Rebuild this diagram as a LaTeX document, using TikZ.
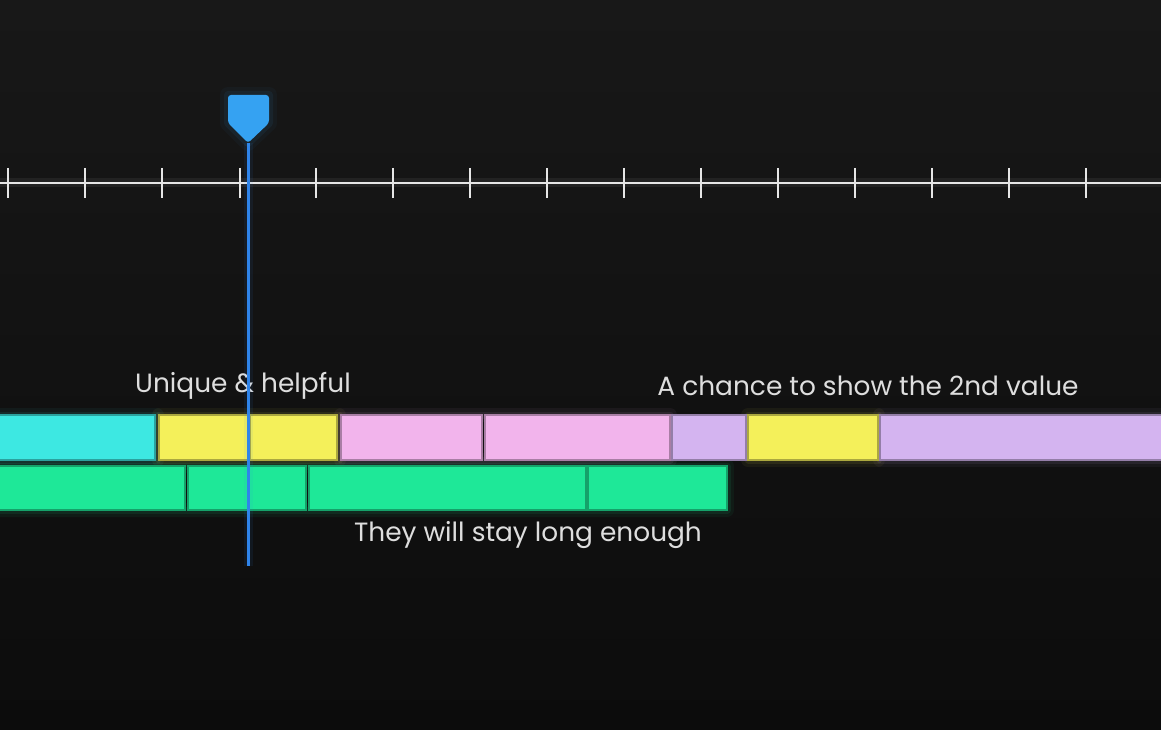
\documentclass[tikz,border=0pt]{standalone}
\usepackage{fontspec}
\setmainfont{Poppins}
\definecolor{bgtop}{HTML}{181818}
\definecolor{bgbot}{HTML}{0C0C0C}
\definecolor{tickc}{HTML}{E6E6E6}
\definecolor{phblue}{HTML}{35A2F2}
\definecolor{lineblue}{HTML}{2F84EA}
\definecolor{cyanc}{HTML}{3DE8E2}
\definecolor{yelc}{HTML}{F4F05A}
\definecolor{pinkc}{HTML}{F2B4EC}
\definecolor{lavc}{HTML}{D4B4F0}
\definecolor{greenc}{HTML}{1EE898}
\definecolor{txtc}{HTML}{DEDEDE}
\tikzset{
  seg/.style={anchor=north west, inner sep=0pt, outer sep=0pt, fill=#1, draw=#1!70!black, line width=1.2pt},
  glow/.style={draw=#1, line width=14pt, opacity=0.05, line join=round},
  glowb/.style={draw=#1, line width=7pt, opacity=0.08, line join=round},
  tickline/.style={draw=tickc, line width=2pt},
  tickglow/.style={draw=white, line width=9pt, opacity=0.06},
  label/.style={text=txtc, font=\fontsize{26.4}{30}\selectfont, inner sep=0pt},
}
\begin{document}
\begin{tikzpicture}[x=1pt,y=-1pt]
\useasboundingbox (0,0) rectangle (1161,730);
\shade[top color=bgtop, bottom color=bgbot] (0,0) rectangle (1161,730);
% timeline
\coordinate (tlA) at (0,183);
\coordinate (tlB) at (1161,183);
\draw[tickglow] (tlA) -- (tlB);
\draw[tickline] (tlA) -- (tlB);
\foreach \x in {8,85,162,240,316,393,470,547,624,701,778,855,932,1009,1086} {
  \coordinate (tt\x) at (\x,168);
  \coordinate (tb\x) at (\x,198);
  \draw[tickline] (tt\x) -- (tb\x);
}
% soft glows behind bars
\foreach \c/\a/\b/\t/\u in {cyanc/-10/157/415/460, yelc/159/339/415/460, pinkc/341/670/415/460, yelc/748/878/415/460, lavc/880/1171/415/460, greenc/-10/727/466/510} {
  \draw[glow=\c] (\a,\t) rectangle (\b,\u);
  \draw[glowb=\c] (\a,\t) rectangle (\b,\u);
}
% row 1
\node[seg=cyanc, minimum width=157pt, minimum height=45pt] (c1) at (-2,415) {};
\node[seg=yelc, minimum width=89pt, minimum height=45pt] (y1) at (159,415) {};
\node[seg=yelc, minimum width=87pt, minimum height=45pt] (y2) at (250,415) {};
\node[seg=pinkc, minimum width=141pt, minimum height=45pt] (p1) at (341,415) {};
\node[seg=pinkc, minimum width=185pt, minimum height=45pt] (p2) at (485,415) {};
\node[seg=lavc, minimum width=74pt, minimum height=45pt] (l1) at (672,415) {};
\node[seg=yelc, minimum width=130pt, minimum height=45pt] (y3) at (748,415) {};
\node[seg=lavc, minimum width=283pt, minimum height=45pt] (l2) at (880,415) {};
% row 2
\node[seg=greenc, minimum width=187pt, minimum height=44pt] (g1) at (-2,466) {};
\node[seg=greenc, minimum width=118pt, minimum height=44pt] (g2) at (188,466) {};
\node[seg=greenc, minimum width=277pt, minimum height=44pt] (g3) at (309,466) {};
\node[seg=greenc, minimum width=139pt, minimum height=44pt] (g4) at (588,466) {};
% labels
\node[label] (t1) at (243,386) {Unique \& helpful};
\node[label] (t2) at (868,386) {A chance to show the 2nd value};
\node[label] (t3) at (528,535) {They will stay long enough};
% playhead
\coordinate (phtip) at (248,143);
\coordinate (phend) at (248,566);
\draw[lineblue, line width=9pt, opacity=0.08] (phtip) -- (phend);
\draw[lineblue, line width=3pt] (phtip) -- (phend);
\foreach \w/\o in {16/0.04, 8/0.07} {
  \draw[phblue, line width=\w pt, opacity=\o, line join=round] (228,95) -- (269,95) -- (269,123) -- (248,143) -- (228,123) -- cycle;
}
\fill[phblue, rounded corners=3pt] (228,95) -- (269,95) -- (269,123) -- (248,143) -- (228,123) -- cycle;
\end{tikzpicture}
\end{document}
